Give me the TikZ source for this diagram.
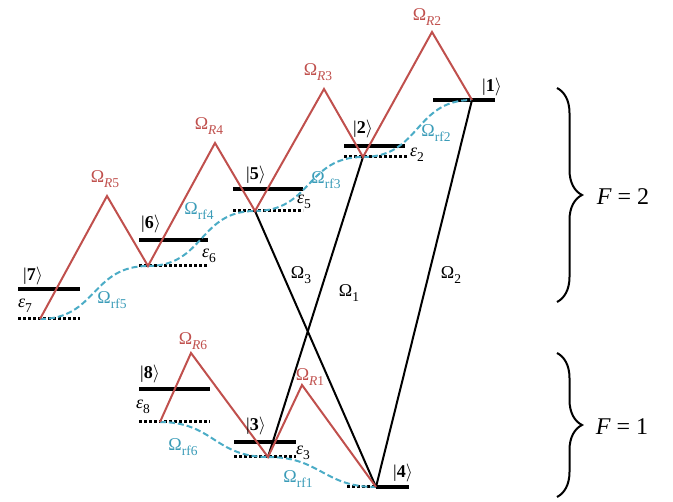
\RequirePackage{fix-cm}
\documentclass[tikz,border=0pt]{standalone}
\usepackage{fontspec}
\setmainfont{Liberation Serif}
\usepackage{xcolor}
\usepackage{tikz}
\usetikzlibrary{decorations.pathreplacing}
\definecolor{RamanRed}{HTML}{C0504D}
\definecolor{RfBlue}{HTML}{4BACC6}
\definecolor{RfText}{HTML}{3B9CB8}
\newcommand{\lowidx}[1]{\raisebox{-0.28em}{\fontsize{13.5}{14}\selectfont #1}}
\newcommand{\kt}[1]{|\textbf{#1}$\rangle$}
\newcommand{\Om}[1]{Ω\lowidx{#1}}
\newcommand{\eps}[1]{\textit{ε}\lowidx{#1}}

\begin{document}
\begin{tikzpicture}[
  x=1pt, y=-1pt,
  lbl/.style={font=\fontsize{18}{21}\selectfont, inner sep=0pt},
  level/.style={line width=3.5pt},
  shifted/.style={line width=3pt, dash pattern=on 3pt off 2pt},
  raman/.style={RamanRed, line width=2pt},
  rf/.style={RfBlue, line width=2pt, dash pattern=on 6pt off 3pt},
  mw/.style={black, line width=2pt},
  fbrace/.style={decorate, decoration={brace, amplitude=25pt}, line width=2pt}
]
\useasboundingbox (0,0) rectangle (673,502);

% levels, F=2
\draw[level] (433,100) -- (495,100);
\draw[level] (344,146) -- (405,146);
\draw[shifted] (344,157) -- (407,157);
\draw[level] (233,189) -- (303,189);
\draw[shifted] (233,211) -- (303,211);
\draw[level] (139,240) -- (208,240);
\draw[shifted] (139,266) -- (208,266);
\draw[level] (18,289) -- (80,289);
\draw[shifted] (18,319) -- (80,319);
% levels, F=1
\draw[level] (139,389) -- (210,389);
\draw[shifted] (139,422) -- (210,422);
\draw[level] (234,442) -- (296,442);
\draw[shifted] (234,457) -- (296,457);
\draw[shifted] (347,487) -- (376,487);
\draw[level] (376,487) -- (409,487);

% dressed states and Raman peaks
\coordinate (v1) at (472,100);
\coordinate (v2) at (363,157);
\coordinate (v5) at (255,211);
\coordinate (v6) at (148,266);
\coordinate (v7) at (40,319);
\coordinate (v8) at (160,422);
\coordinate (v3) at (268,457);
\coordinate (v4) at (376,487);
\coordinate (pR2) at (432,32);
\coordinate (pR3) at (324,89);
\coordinate (pR4) at (215,143);
\coordinate (pR5) at (107,196);
\coordinate (pR6) at (191,353);
\coordinate (pR1) at (302,385);

% rf couplings
\draw[rf] (v7) to[out=0, in=180, looseness=1.2] (v6);
\draw[rf] (v6) to[out=0, in=180, looseness=1.2] (v5);
\draw[rf] (v5) to[out=0, in=180, looseness=1.2] (v2);
\draw[rf] (v2) to[out=0, in=180, looseness=1.2] (v1);
\draw[rf] (v8) to[out=0, in=180, looseness=1.2] (v3);
\draw[rf] (v3) to[out=0, in=180, looseness=1.2] (v4);

% microwaves
\draw[mw] (v3) -- (v2);
\draw[mw] (v4) -- (v1);
\draw[mw] (v5) -- (v4);

% Raman
\draw[raman] (v7) -- (pR5) -- (v6) -- (pR4) -- (v5) -- (pR3) -- (v2) -- (pR2) -- (v1);
\draw[raman] (v8) -- (pR6) -- (v3) -- (pR1) -- (v4);

% kets
\node[lbl] (k1) at (492,87) {\kt{1}};
\node[lbl] (k2) at (363,129) {\kt{2}};
\node[lbl] (k5) at (256,175) {\kt{5}};
\node[lbl] (k6) at (151,224) {\kt{6}};
\node[lbl] (k7) at (33,276) {\kt{7}};
\node[lbl] (k8) at (150,374) {\kt{8}};
\node[lbl] (k3) at (256,426) {\kt{3}};
\node[lbl] (k4) at (403,473) {\kt{4}};

% shifts
\node[lbl] (e2) at (417,155) {\eps{2}};
\node[lbl] (e5) at (304,202) {\eps{5}};
\node[lbl] (e6) at (209,256) {\eps{6}};
\node[lbl] (e7) at (25,306) {\eps{7}};
\node[lbl] (e8) at (143,407) {\eps{8}};
\node[lbl] (e3) at (303,453) {\eps{3}};

% Raman labels
\node[lbl, RamanRed] (oR2) at (427,17) {\Om{\textit{R}2}};
\node[lbl, RamanRed] (oR3) at (318,72) {\Om{\textit{R}3}};
\node[lbl, RamanRed] (oR4) at (209,126) {\Om{\textit{R}4}};
\node[lbl, RamanRed] (oR5) at (105,179) {\Om{\textit{R}5}};
\node[lbl, RamanRed] (oR6) at (193,341) {\Om{\textit{R}6}};
\node[lbl, RamanRed] (oR1) at (310,377) {\Om{\textit{R}1}};

% rf labels
\node[lbl, RfText] (orf2) at (436,133) {\Om{rf2}};
\node[lbl, RfText] (orf3) at (326,180) {\Om{rf3}};
\node[lbl, RfText] (orf4) at (199,211) {\Om{rf4}};
\node[lbl, RfText] (orf5) at (112,300) {\Om{rf5}};
\node[lbl, RfText] (orf6) at (183,447) {\Om{rf6}};
\node[lbl, RfText] (orf1) at (298,479) {\Om{rf1}};

% microwave labels
\node[lbl] (o3) at (301,275) {\Om{3}};
\node[lbl] (o1) at (349,293) {\Om{1}};
\node[lbl] (o2) at (451,275) {\Om{2}};

% hyperfine manifolds
\coordinate (f2top) at (557,88);
\coordinate (f2bot) at (557,302);
\coordinate (f1top) at (557,353);
\coordinate (f1bot) at (557,497);
\draw[fbrace] (f2top) -- (f2bot);
\draw[fbrace] (f1top) -- (f1bot);
\node[font=\fontsize{24}{28}\selectfont] (f2) at (623,197) {\textit{F} = 2};
\node[font=\fontsize{24}{28}\selectfont] (f1) at (622,427) {\textit{F} = 1};
\end{tikzpicture}
\end{document}
